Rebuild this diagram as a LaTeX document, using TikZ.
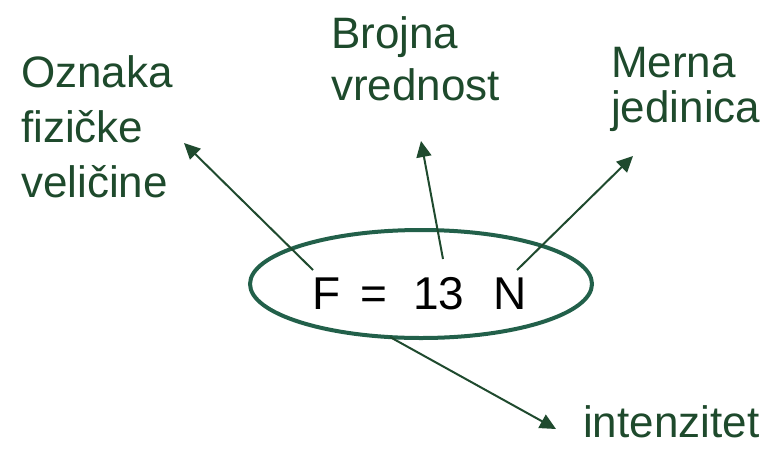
\documentclass[tikz,border=0pt]{standalone}
\usepackage{fontspec}
\setmainfont{Liberation Sans}
\usetikzlibrary{arrows.meta}
\definecolor{lbl}{HTML}{1E4A2C}
\definecolor{arr}{HTML}{1F4A2E}
\definecolor{ell}{HTML}{22604A}
\tikzset{
  lab/.style={anchor=base west, inner sep=0pt, align=left, text=lbl},
  eq/.style={anchor=base west, inner sep=0pt, text=black, font=\fontsize{46}{50}\selectfont},
  pointer/.style={draw=arr, line width=2pt, -{Triangle[length=16pt,width=15pt]}}
}
\begin{document}
\begin{tikzpicture}[x=1pt,y=-1pt]
\useasboundingbox (0,0) rectangle (775,453);
\draw[ell, line width=4pt] (421,284) ellipse [x radius=171, y radius=54];
\node[eq] (F) at (312,309) {F};
\node[eq] (eqs) at (360,309) {=};
\node[eq] (num) at (413,309) {13};
\node[eq] (N) at (493,309) {N};
\node[lab, font=\fontsize{44}{55}\selectfont] (oz) at (21,197) {Oznaka\\fizičke\\veličine};
\node[lab, font=\fontsize{44}{52}\selectfont] (br) at (331,100) {Brojna\\vrednost};
\node[lab, font=\fontsize{44}{45}\selectfont] (me) at (611,122) {Merna\\jedinica};
\node[lab, font=\fontsize{44}{50}\selectfont] (in) at (583,437) {intenzitet};
\coordinate (s1) at (313,270);
\coordinate (t1) at (184,143);
\coordinate (s2) at (443,259);
\coordinate (t2) at (421,141);
\coordinate (s3) at (517,270);
\coordinate (t3) at (633,156);
\coordinate (s4) at (390,337);
\coordinate (t4) at (556,429);
\draw[pointer] (s1) -- (t1);
\draw[pointer] (s2) -- (t2);
\draw[pointer] (s3) -- (t3);
\draw[pointer] (s4) -- (t4);
\end{tikzpicture}
\end{document}
